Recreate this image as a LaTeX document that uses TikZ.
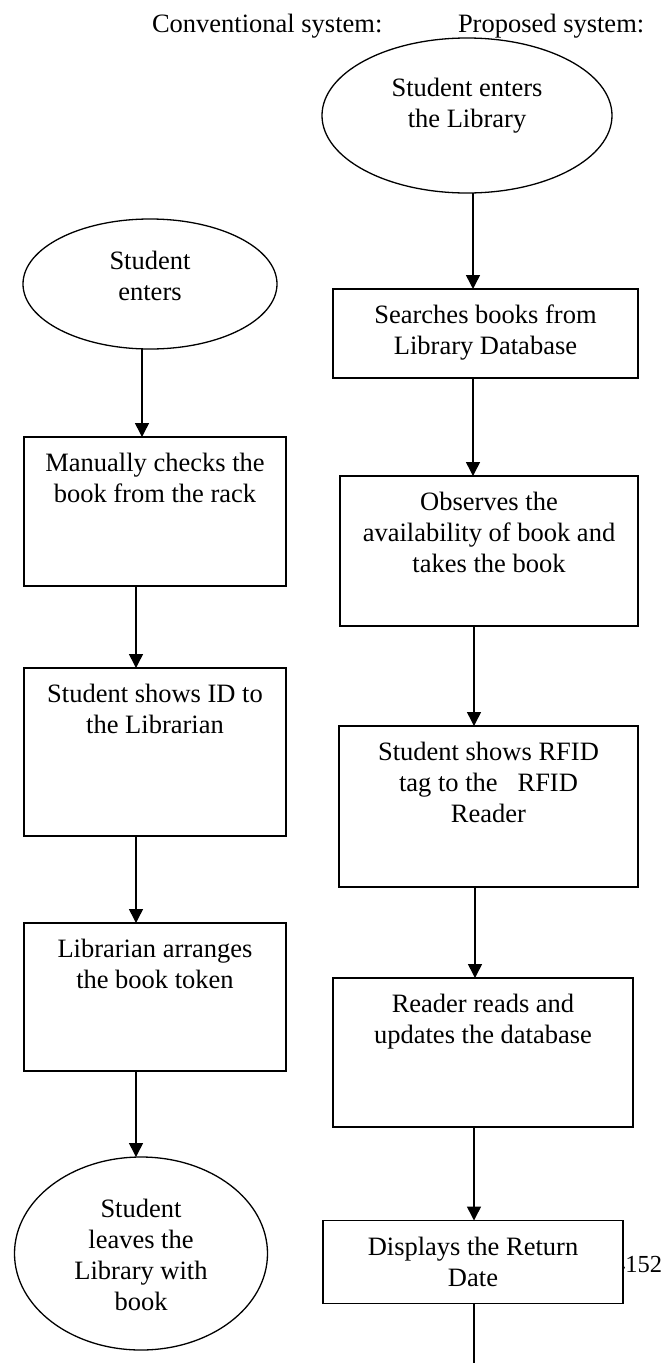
\documentclass[tikz,border=0pt]{standalone}
\usepackage{fontspec}
\setmainfont{Liberation Serif}
\usetikzlibrary{arrows.meta,shapes.geometric}
\begin{document}
\begin{tikzpicture}[x=1pt,y=-1pt,
  every node/.style={inner sep=0pt, outer sep=0pt},
  txt/.style={font=\fontsize{26.5}{31}\selectfont, align=center},
  stepbox/.style={draw, line width=1.5pt, rectangle, fill=white},
  oval/.style={draw, line width=1.3pt, ellipse},
  flow/.style={line width=1.5pt, -{Triangle[width=14pt,length=14pt]}},
  plain/.style={line width=1.5pt},
]
\useasboundingbox (0,0) rectangle (665,1363);

% headers
\node[txt, anchor=base west] (h1) at (152,32) {Conventional system:};
\node[txt, anchor=base west] (h2) at (458,32) {Proposed system:};

% page number (partly hidden by the last box)
\node[font=\fontsize{24.5}{28}\selectfont, anchor=base east] (pg) at (662,1272) {4152};

% left column
\node[oval, minimum width=254pt, minimum height=130pt] (e1) at (150,284) {};
\node[txt] (e1t) at (150,276) {Student\\enters};

\node[stepbox, minimum width=262pt, minimum height=149pt] (b1) at (155,511.5) {};
\node[txt, anchor=north] (b1t) at (155,453) {Manually checks the\\book from the rack};

\node[stepbox, minimum width=262pt, minimum height=168pt] (b2) at (155,752) {};
\node[txt, anchor=north] (b2t) at (155,684) {Student shows ID to\\the Librarian};

\node[stepbox, minimum width=262pt, minimum height=148pt] (b3) at (155,997) {};
\node[txt, anchor=north] (b3t) at (155,939) {Librarian arranges\\the book token};

\node[oval, minimum width=253pt, minimum height=193pt] (e2) at (141,1253.5) {};
\node[txt] (e2t) at (141,1255) {Student\\leaves the\\Library with\\book};

% right column
\node[oval, minimum width=290pt, minimum height=155pt] (eR) at (467,115.5) {};
\node[txt] (eRt) at (467,106) {Student enters\\the Library};

\node[stepbox, minimum width=305pt, minimum height=89pt] (bA) at (485.5,333.5) {};
\node[txt, anchor=north] (bAt) at (485.5,305) {Searches books from\\Library Database};

\node[stepbox, minimum width=298pt, minimum height=150pt] (bB) at (489,551) {};
\node[txt, anchor=north] (bBt) at (489,492) {Observes the\\availability of book and\\takes the book};

\node[stepbox, minimum width=299pt, minimum height=161pt] (bC) at (488.5,806.5) {};
\node[txt, anchor=north] (bCt) at (488.5,742) {Student shows RFID\\tag to the \ \ RFID\\Reader};

\node[stepbox, minimum width=300pt, minimum height=149pt] (bD) at (483,1052.5) {};
\node[txt, anchor=north] (bDt) at (483,994) {Reader reads and\\updates the database};

\node[stepbox, minimum width=300pt, minimum height=83pt] (bE) at (473,1262) {};
\node[txt, anchor=north] (bEt) at (473,1237) {Displays the Return\\Date};

\coordinate (bottomend) at (474,1363);

% connectors, left
\draw[flow] ([xshift=-8pt]e1.south) -- ([xshift=-13pt]b1.north);
\draw[flow] ([xshift=-19pt]b1.south) -- ([xshift=-19pt]b2.north);
\draw[flow] ([xshift=-19pt]b2.south) -- ([xshift=-19pt]b3.north);
\draw[flow] ([xshift=-19pt]b3.south) -- ([xshift=-5pt]e2.north);

% connectors, right
\draw[flow] ([xshift=6pt]eR.south) -- ([xshift=-12.5pt]bA.north);
\draw[flow] ([xshift=-12.5pt]bA.south) -- ([xshift=-16pt]bB.north);
\draw[flow] ([xshift=-15pt]bB.south) -- ([xshift=-14.5pt]bC.north);
\draw[flow] ([xshift=-13.5pt]bC.south) -- ([xshift=-8pt]bD.north);
\draw[flow] ([xshift=-9pt]bD.south) -- ([xshift=1pt]bE.north);
\draw[plain] ([xshift=1pt]bE.south) -- (bottomend);
\end{tikzpicture}
\end{document}
